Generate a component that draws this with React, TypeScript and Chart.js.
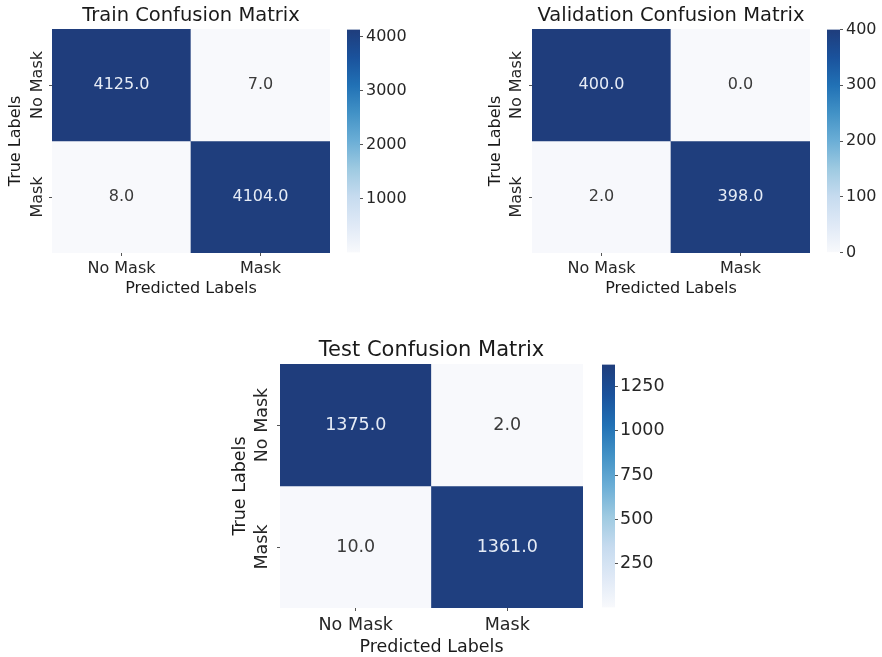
import React, { useEffect, useRef } from 'react';
import { Chart, registerables } from 'chart.js';

Chart.register(...registerables);

const FONT = '"DejaVu Sans", "Liberation Sans", sans-serif';

// ---- data ----
const classLabels = ['No Mask', 'Mask'];
const trainValues = [
  [4125, 7],
  [8, 4104],
];
const validationValues = [
  [400, 0],
  [2, 398],
];
const testValues = [
  [1375, 2],
  [10, 1361],
];
const trainColorbarTicks = [1000, 2000, 3000, 4000];
const validationColorbarTicks = [0, 100, 200, 300, 400];
const testColorbarTicks = [250, 500, 750, 1000, 1250];
const xAxisTitle = 'Predicted Labels';
const yAxisTitle = 'True Labels';

// ---- colormap (Blues-like) ----
const BLUES: [number, string][] = [
  [0, '#f8f9fc'],
  [0.125, '#dfe9f6'],
  [0.25, '#c6dbef'],
  [0.375, '#9ecae1'],
  [0.5, '#6baed6'],
  [0.625, '#4292c6'],
  [0.75, '#2171b5'],
  [0.875, '#1a529c'],
  [1, '#1f3d7c'],
];

function hexToRgb(h: string) {
  const n = parseInt(h.slice(1), 16);
  return [(n >> 16) & 255, (n >> 8) & 255, n & 255];
}

function cmap(t: number) {
  const tt = Math.max(0, Math.min(1, t));
  for (let k = 0; k < BLUES.length - 1; k++) {
    const [t0, c0] = BLUES[k];
    const [t1, c1] = BLUES[k + 1];
    if (tt >= t0 && tt <= t1) {
      const f = (tt - t0) / (t1 - t0);
      const a = hexToRgb(c0);
      const b = hexToRgb(c1);
      const r = a.map((v, i) => Math.round(v + (b[i] - v) * f));
      return `rgb(${r[0]},${r[1]},${r[2]})`;
    }
  }
  return BLUES[BLUES.length - 1][1];
}

type PanelLayout = {
  heat: { l: number; t: number; r: number; b: number };
  titleY: number;
  xTickY: number;
  xTitleY: number;
  yTitleX: number;
  yTickX: number;
  titleSize: number;
  fontSize: number;
  tickLen: number;
  cb: { l: number; r: number; labelX: number };
};

type PanelDef = {
  title: string;
  values: number[][];
  cbTicks: number[];
  layout: PanelLayout;
};

const panels: PanelDef[] = [
  {
    title: 'Train Confusion Matrix',
    values: trainValues,
    cbTicks: trainColorbarTicks,
    layout: {
      heat: { l: 52, t: 29, r: 330, b: 253 },
      titleY: 15.5,
      xTickY: 268.5,
      xTitleY: 289,
      yTitleX: 15.5,
      yTickX: 38,
      titleSize: 19.5,
      fontSize: 16,
      tickLen: 3,
      cb: { l: 347, r: 360, labelX: 366 },
    },
  },
  {
    title: 'Validation Confusion Matrix',
    values: validationValues,
    cbTicks: validationColorbarTicks,
    layout: {
      heat: { l: 532, t: 29, r: 810, b: 253 },
      titleY: 15.5,
      xTickY: 268.5,
      xTitleY: 289,
      yTitleX: 495.5,
      yTickX: 517,
      titleSize: 19.5,
      fontSize: 16,
      tickLen: 3,
      cb: { l: 827, r: 840, labelX: 846 },
    },
  },
  {
    title: 'Test Confusion Matrix',
    values: testValues,
    cbTicks: testColorbarTicks,
    layout: {
      heat: { l: 280, t: 364, r: 583, b: 608 },
      titleY: 350.5,
      xTickY: 625,
      xTitleY: 647.5,
      yTitleX: 240.5,
      yTickX: 262,
      titleSize: 21,
      fontSize: 17.5,
      tickLen: 3,
      cb: { l: 602, r: 615, labelX: 620 },
    },
  },
];

function Panel({ p }: { p: PanelDef }) {
  const hRef = useRef<HTMLCanvasElement>(null);
  const cRef = useRef<HTMLCanvasElement>(null);
  const L = p.layout;

  const left = Math.round(L.yTitleX - 14);
  const top = Math.round(L.titleY - 14);
  const right = Math.round(L.heat.r + 4);
  const bottom = Math.round(L.xTitleY + 13);
  const W = right - left;
  const H = bottom - top;

  const cbLeft = L.cb.l;
  const cbTop = L.heat.t - 12;
  const cbW = Math.min(62, 882 - cbLeft);
  const cbH = L.heat.b - L.heat.t + 24;

  useEffect(() => {
    const flat = p.values.flat();
    const vmin = Math.min(...flat);
    const vmax = Math.max(...flat);
    const norm = (v: number) => (v - vmin) / (vmax - vmin);
    const lhT = L.titleSize * 1.2;
    const lhA = L.fontSize * 1.2;
    const ptT = L.titleY - top - lhT / 2;
    const pbT = L.heat.t - top - lhT - ptT;

    const labelPlugin = {
      id: 'cellLabels',
      afterDatasetsDraw(chart: any) {
        const ctx = chart.ctx;
        ctx.save();
        ctx.font = `${L.fontSize}px ${FONT}`;
        ctx.textAlign = 'center';
        ctx.textBaseline = 'middle';
        chart.data.datasets.forEach((_ds: any, i: number) => {
          const meta = chart.getDatasetMeta(i);
          meta.data.forEach((el: any, j: number) => {
            const v = p.values[i][j];
            const c = el.getCenterPoint();
            ctx.fillStyle = norm(v) > 0.5 ? '#e6ecf6' : '#3a3a3a';
            ctx.fillText(v.toFixed(1), c.x, c.y);
          });
        });
        const ys = chart.scales.y;
        ctx.fillStyle = '#262626';
        classLabels.forEach((lab, i) => {
          const py = ys.getPixelForValue(i + 0.5);
          ctx.save();
          ctx.translate(L.yTickX - left, py);
          ctx.rotate(-Math.PI / 2);
          ctx.fillText(lab, 0, 0);
          ctx.restore();
        });
        ctx.restore();
      },
    };

    const heatChart = new Chart(hRef.current as HTMLCanvasElement, {
      type: 'bar',
      data: {
        labels: classLabels,
        datasets: p.values.map((row, i) => ({
          label: classLabels[i],
          data: row.map(() => [i, i + 1]),
          backgroundColor: row.map((v) => cmap(norm(v))),
          borderWidth: 0,
          grouped: false,
          barPercentage: 1,
          categoryPercentage: 1,
        })) as any,
      },
      options: {
        responsive: false,
        animation: false,
        events: [],
        layout: { padding: { left: 0, top: 0, bottom: 0, right: right - L.heat.r } },
        plugins: {
          legend: { display: false },
          tooltip: { enabled: false },
          title: {
            display: true,
            text: p.title,
            fullSize: false,
            color: '#1a1a1a',
            font: { family: FONT, size: L.titleSize, weight: 'normal', lineHeight: 1.2 },
            padding: { top: ptT, bottom: pbT },
          },
        },
        scales: {
          x: {
            type: 'category',
            offset: true,
            grid: {
              display: true,
              drawOnChartArea: false,
              offset: false,
              tickLength: L.tickLen,
              color: '#555',
            },
            border: { display: false },
            ticks: {
              color: '#262626',
              font: { family: FONT, size: L.fontSize },
              padding: L.xTickY - L.heat.b - L.tickLen - lhA / 2,
              maxRotation: 0,
              minRotation: 0,
              autoSkip: false,
            },
            title: {
              display: true,
              text: xAxisTitle,
              color: '#1a1a1a',
              font: { family: FONT, size: L.fontSize },
              padding: { top: 0, bottom: bottom - L.xTitleY - lhA / 2 },
            },
            afterFit: (s: any) => {
              s.height = bottom - L.heat.b;
            },
          },
          y: {
            type: 'linear',
            min: 0,
            max: classLabels.length,
            reverse: true,
            grid: {
              display: true,
              drawOnChartArea: false,
              tickLength: L.tickLen,
              color: '#555',
            },
            border: { display: false },
            ticks: { display: false },
            afterBuildTicks: (s: any) => {
              s.ticks = classLabels.map((_l, i) => ({ value: i + 0.5 }));
            },
            title: {
              display: true,
              text: yAxisTitle,
              color: '#1a1a1a',
              font: { family: FONT, size: L.fontSize },
              padding: { top: L.yTitleX - left - lhA / 2, bottom: 0 },
            },
            afterFit: (s: any) => {
              s.width = L.heat.l - left;
            },
          },
        },
      } as any,
      plugins: [labelPlugin],
    });

    const cbChart = new Chart(cRef.current as HTMLCanvasElement, {
      type: 'bar',
      data: {
        labels: ['colorbar'],
        datasets: [
          {
            label: 'colorbar',
            data: [[vmin, vmax]] as any,
            barPercentage: 1,
            categoryPercentage: 1,
            borderWidth: 0,
            backgroundColor: (c: any) => {
              const chart = c.chart;
              if (!chart.chartArea) return cmap(1);
              const ys = chart.scales.y;
              const g = chart.ctx.createLinearGradient(
                0,
                ys.getPixelForValue(vmin),
                0,
                ys.getPixelForValue(vmax)
              );
              BLUES.forEach(([t, col]) => g.addColorStop(t, col));
              return g;
            },
          },
        ],
      },
      options: {
        responsive: false,
        animation: false,
        events: [],
        layout: { padding: { left: 0, right: 0, top: 12, bottom: 12 } },
        plugins: {
          legend: { display: false },
          tooltip: { enabled: false },
          title: { display: false },
        },
        scales: {
          x: { display: false, offset: true },
          y: {
            type: 'linear',
            position: 'right',
            min: vmin,
            max: vmax,
            grid: {
              display: true,
              drawOnChartArea: false,
              tickLength: L.tickLen,
              color: '#555',
            },
            border: { display: false },
            ticks: {
              color: '#262626',
              font: { family: FONT, size: L.fontSize },
              padding: L.cb.labelX - L.cb.r - L.tickLen,
              callback: (v: any) => String(v),
            },
            afterBuildTicks: (s: any) => {
              s.ticks = p.cbTicks.map((v) => ({ value: v }));
            },
            afterFit: (s: any) => {
              s.width = cbW - (L.cb.r - L.cb.l);
            },
          },
        },
      } as any,
    });

    return () => {
      heatChart.destroy();
      cbChart.destroy();
    };
  }, []);

  return (
    <>
      <canvas
        ref={hRef}
        width={W}
        height={H}
        style={{ position: 'absolute', left, top, width: W, height: H }}
      />
      <canvas
        ref={cRef}
        width={cbW}
        height={cbH}
        style={{ position: 'absolute', left: cbLeft, top: cbTop, width: cbW, height: cbH }}
      />
    </>
  );
}

export default function App() {
  return (
    <div
      style={{
        position: 'fixed',
        left: 0,
        top: 0,
        width: 882,
        height: 657,
        background: '#ffffff',
        overflow: 'hidden',
      }}
    >
      {panels.map((p) => (
        <Panel key={p.title} p={p} />
      ))}
    </div>
  );
}
